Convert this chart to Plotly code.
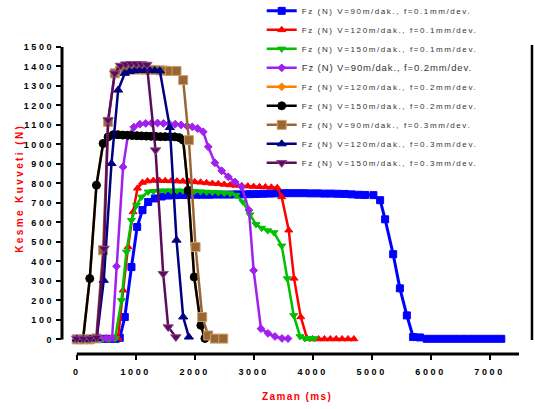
import plotly.graph_objects as go

# ---------------- data ----------------
blue_t = [0,110,220,330,440,550,660,730,815,928,1025,1115,1211,1325,1440,
          1555,1670,1785,1900,2015,2130,2245,2360,2475,2590,2705,2820,2935,3050,3165,
          3280,3395,3510,3625,3740,3855,3970,4085,4200,4315,4430,4545,4660,4775,4890,
          5031,5145,5230,5366,5480,5598,5705,
          5820,5935,6050,6165,6280,6395,6510,6625,6740,6855,6970,7085,7200]
blue_v = [3,3,3,3,3,3,3,8,115,371,577,663,705,723,733,
          738,740,741,741,742,742,742,743,743,743,744,744,745,746,747,
          748,749,750,750,750,750,749,749,748,748,747,746,744,742,741,
          740,714,616,437,262,123,12,
          10,3,3,3,3,3,3,3,3,3,3,3,3]

red_t = [0,110,220,330,440,550,700,786,871,956,1030,1115,1200,
         1300,1400,1500,1600,1700,1800,1900,2000,2100,2200,2300,2400,2500,2600,2700,
         2800,2900,3000,3100,3200,3300,3400,
         3476,3595,3685,3799,3906,4000,4100,4200,4300,4400,4500,4600,4700]
red_v = [2,2,2,2,2,2,5,252,474,654,775,805,812,
         815,815,814,813,812,811,810,808,806,803,800,798,795,792,790,
         788,786,784,783,782,780,778,
         731,560,313,115,5,2,2,2,2,2,2,2,2]

green_t = [0,110,220,330,440,550,650,758,843,928,1013,1098,1211,
           1300,1400,1500,1600,1700,1800,1900,2000,2100,2200,2300,2400,2500,2600,2700,
           2820,2937,3040,3136,3238,3345,3476,3570,3680,3787,3870,3950,4030]
green_v = [2,2,2,2,2,2,5,200,449,611,688,731,757,
           760,762,763,763,763,762,762,760,758,756,755,753,750,748,740,
           705,640,590,571,558,548,480,312,123,15,5,5,5]

purple_t = [0,100,200,300,400,500,600,674,786,866,968,1070,
            1170,1270,1370,1470,1570,1670,1770,1870,
            1960,2050,2145,2230,2343,2457,2570,2683,2797,2920,3000,3124,3243,3362,3481,3583]
purple_v = [3,3,3,3,5,5,8,375,885,1043,1089,1104,
            1108,1110,1110,1108,1106,1104,1100,1095,
            1090,1082,1065,988,906,865,834,808,783,663,354,55,31,15,5,4]

orange_t = [0,107,221,334,447,532,620,700,780,860,940,1020,1100,1180,1260,1340,
            1420,1500,1580,1660,1740,1805,1890,1992,2105,2173]
orange_v = [0,0,312,791,1005,1039,1050,1050,1048,1047,1046,1045,1044,1043,1042,1041,
            1040,1040,1040,1039,1035,1022,765,320,72,5]

black_t = [0,107,221,334,447,532,620,700,780,860,940,1020,1100,1180,1260,1340,
           1420,1500,1580,1660,1740,1805,1890,1992,2105,2173]
black_v = [0,0,312,791,1005,1039,1050,1050,1048,1047,1046,1045,1044,1043,1042,1041,
           1040,1040,1040,1039,1035,1022,765,320,72,5]

brown_t = [0,110,220,330,447,532,645,730,815,900,985,1070,1155,1240,1325,1410,
           1495,1579,1692,1805,1902,2015,2128,2230,2343,2484]
brown_v = [0,0,0,5,457,1116,1365,1378,1382,1384,1385,1385,1384,1383,1382,1380,
           1379,1377,1377,1330,1022,474,115,20,4,4]

navy_t = [0,113,226,339,458,589,702,815,900,985,1070,1155,1240,1324,1409,1579,1692,1805,1902]
navy_v = [2,2,2,5,303,902,1279,1365,1375,1378,1380,1380,1379,1380,1378,1087,509,115,12]

dpurp_t = [0,113,226,339,464,532,645,740,830,920,1010,1100,1190,1336,1466,1551,1681]
dpurp_v = [5,5,5,10,466,1125,1365,1405,1412,1414,1414,1413,1410,971,337,63,12]

series_names = [
    "Fz (N) V=90m/dak., f=0.1mm/dev.",
    "Fz (N) V=120m/dak., f=0.1mm/dev.",
    "Fz (N) V=150m/dak., f=0.1mm/dev.",
    "Fz (N) V=90m/dak., f=0.2mm/dev.",
    "Fz (N) V=120m/dak., f=0.2mm/dev.",
    "Fz (N) V=150m/dak., f=0.2mm/dev.",
    "Fz (N) V=90m/dak., f=0.3mm/dev.",
    "Fz (N) V=120m/dak., f=0.3mm/dev.",
    "Fz (N) V=150m/dak., f=0.3mm/dev.",
]

x_tick_vals = [0, 1000, 2000, 3000, 4000, 5000, 6000, 7000]
x_tick_labels = ["0", "1000", "2000", "3000", "4000", "5000", "6000", "7000"]
y_tick_vals = [0, 100, 200, 300, 400, 500, 600, 700, 800, 900, 1000, 1100, 1200, 1300, 1400, 1500]
y_tick_labels = [str(v) for v in y_tick_vals]

x_title = "Zaman (ms)"
y_title = "Kesme Kuvveti (N)"

# ---------------- styles ----------------
styles = [
    # color, symbol, size, edge, linewidth, legend font-size, legend letter-spacing
    ("#0000FF", "square", 7, "#0000FF", 3, 8, 1.6),
    ("#FF0000", "triangle-up", 7, "#FF0000", 2.5, 8, 1.6),
    ("#00C000", "triangle-down", 7, "#00C000", 2.5, 8, 1.6),
    ("#A020F0", "diamond", 6, "#A020F0", 2.5, 9.5, 0.9),
    ("#FF8000", "diamond", 6, "#FF8000", 2.5, 8, 1.6),
    ("#000000", "circle", 8, "#000000", 2.5, 8, 1.6),
    ("#996633", "square", 9, "#C8A068", 2.5, 8, 1.6),
    ("#000080", "triangle-up", 8, "#000080", 2.5, 8, 1.6),
    ("#5C0A5C", "triangle-down", 9, "#8A4A8A", 2.5, 8, 1.6),
]
data = [(blue_t, blue_v), (red_t, red_v), (green_t, green_v), (purple_t, purple_v),
        (orange_t, orange_v), (black_t, black_v), (brown_t, brown_v),
        (navy_t, navy_v), (dpurp_t, dpurp_v)]

fig = go.Figure()
for name, (t, v), (col, sym, size, edge, lw, lfs, ls) in zip(series_names, data, styles):
    assert len(t) == len(v), name
    label = '<span style="letter-spacing:%.1fpx;font-size:%.1fpx">%s</span>' % (ls, lfs, name)
    fig.add_trace(go.Scatter(
        x=t, y=v, mode="lines+markers", name=label,
        line=dict(color=col, width=lw),
        marker=dict(symbol=sym, size=size, color=col, line=dict(color=edge, width=1)),
        cliponaxis=False,
    ))

def spaced(s, px):
    return '<span style="letter-spacing:%.1fpx">%s</span>' % (px, s)

FONT = "Liberation Sans, Arial, sans-serif"
tickfont = dict(family=FONT, size=9, color="black", weight="bold")

fig.update_layout(
    width=535, height=409,
    margin=dict(l=62, r=16, t=47, b=55, autoexpand=False),
    paper_bgcolor="white", plot_bgcolor="white",
    showlegend=True,
    legend=dict(
        x=0.437, y=1.165, xanchor="left", yanchor="top",
        font=dict(family=FONT, size=8, color="#333333"),
        bgcolor="rgba(0,0,0,0)", itemwidth=30, tracegroupgap=0,
    ),
    xaxis=dict(
        range=[-250, 7500], showgrid=False, zeroline=False, showline=False,
        ticks="outside", ticklen=5, tickwidth=2, tickcolor="black",
        tickvals=x_tick_vals, ticktext=[spaced(s, 2.6) for s in x_tick_labels],
        tickfont=tickfont, ticklabelstandoff=4,
    ),
    yaxis=dict(
        range=[-75, 1500], showgrid=False, zeroline=False, showline=False,
        ticks="outside", ticklen=5, tickwidth=2, tickcolor="black",
        tickvals=y_tick_vals, ticktext=[spaced(s, 2.6) for s in y_tick_labels],
        tickfont=tickfont,
    ),
    shapes=[
        dict(type="line", xref="paper", yref="y", x0=0, x1=0, y0=0, y1=1500,
             line=dict(color="black", width=3)),
        dict(type="line", xref="x", yref="paper", x0=0, x1=7500, y0=0, y1=0,
             line=dict(color="black", width=3)),
        dict(type="line", xref="paper", yref="paper", x0=1.0284, x1=1.0284, y0=0.0456, y1=1.0065,
             line=dict(color="black", width=2.5)),
    ],
    annotations=[
        dict(text=spaced(x_title, 1.4), xref="paper", yref="paper", x=0.514, y=-0.137,
             xanchor="center", yanchor="middle",
             showarrow=False, font=dict(family=FONT, size=10, color="#FF0000", weight="bold")),
        dict(text=spaced(y_title, 2.4), xref="paper", yref="paper", x=-0.092, y=0.541,
             xanchor="center", yanchor="middle",
             textangle=-90, showarrow=False,
             font=dict(family=FONT, size=10, color="#FF0000", weight="bold")),
    ],
)

fig.write_html("out.html")
